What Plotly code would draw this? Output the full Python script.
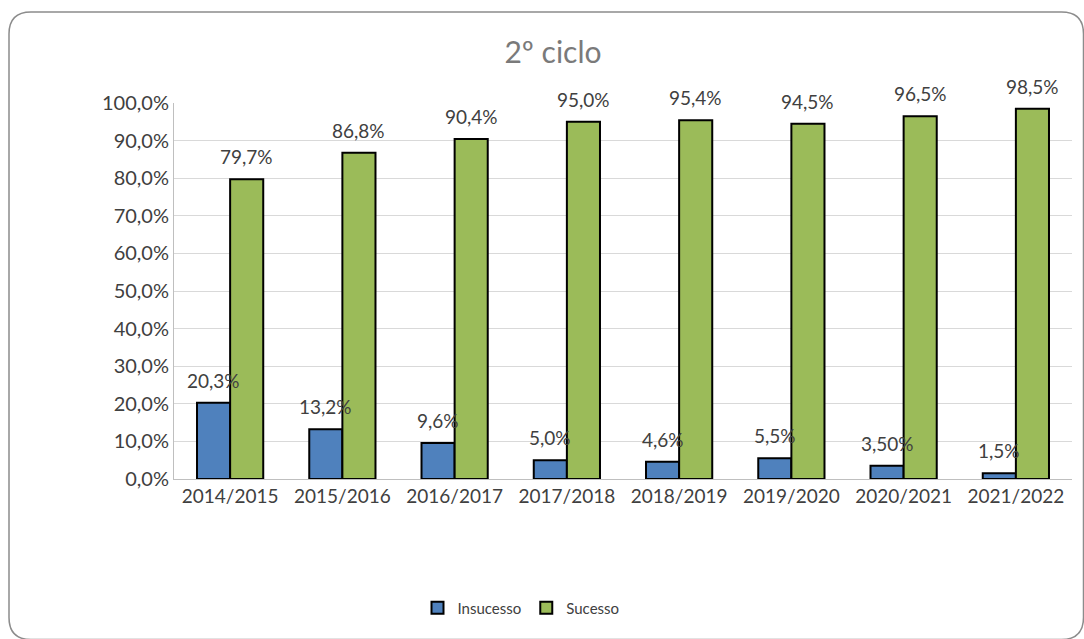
import plotly.graph_objects as go

categories = ["2014/2015", "2015/2016", "2016/2017", "2017/2018",
              "2018/2019", "2019/2020", "2020/2021", "2021/2022"]
insucesso = [20.3, 13.2, 9.6, 5.0, 4.6, 5.5, 3.5, 1.5]
sucesso = [79.7, 86.8, 90.4, 95.0, 95.4, 94.5, 96.5, 98.5]
insucesso_labels = ["20,3%", "13,2%", "9,6%", "5,0%", "4,6%", "5,5%", "3,50%", "1,5%"]
sucesso_labels = ["79,7%", "86,8%", "90,4%", "95,0%", "95,4%", "94,5%", "96,5%", "98,5%"]
y_ticks = [0, 10, 20, 30, 40, 50, 60, 70, 80, 90, 100]
y_tick_labels = ["0,0%", "10,0%", "20,0%", "30,0%", "40,0%", "50,0%",
                 "60,0%", "70,0%", "80,0%", "90,0%", "100,0%"]

W, H = 1084, 639
L, R, T, B = 174, 12, 103, 160
pw, ph = W - L - R, H - T - B
BARGAP = 0.41

def px(x):
    return (x - L) / pw

def py(y):
    return (H - B - y) / ph

font_family = "Lato, 'Open Sans', sans-serif"
text_color = "#404040"

fig = go.Figure()
fig.add_trace(go.Bar(
    name="Insucesso", x=categories, y=insucesso,
    marker=dict(color="#4F81BD", line=dict(color="#000000", width=2)),
))
fig.add_trace(go.Bar(
    name="Sucesso", x=categories, y=sucesso,
    marker=dict(color="#9BBB59", line=dict(color="#000000", width=2)),
))

# data labels placed through the axes, shifted to each bar of the group
bar_px = pw / len(categories) * (1 - BARGAP) / 2
annotations = []
for series, labels, sign in ((insucesso, insucesso_labels, -1),
                             (sucesso, sucesso_labels, 1)):
    for cat, val, lab in zip(categories, series, labels):
        annotations.append(dict(
            x=cat, y=val, xref="x", yref="y", text=lab, showarrow=False,
            xanchor="center", yanchor="bottom",
            xshift=sign * bar_px / 2, yshift=9,
            font=dict(size=19, color=text_color, family=font_family),
        ))

# rounded border
x0, x1 = px(9), px(1083.5)
y0, y1 = py(639.5), py(12)
rx, ry = 22 / pw, 22 / ph
path = (f"M {x0+rx},{y1} L {x1-rx},{y1} Q {x1},{y1} {x1},{y1-ry} "
        f"L {x1},{y0+ry} Q {x1},{y0} {x1-rx},{y0} "
        f"L {x0+rx},{y0} Q {x0},{y0} {x0},{y0+ry} "
        f"L {x0},{y1-ry} Q {x0},{y1} {x0+rx},{y1} Z")

fig.update_layout(
    width=W, height=H,
    margin=dict(l=L, r=R, t=T, b=B),
    paper_bgcolor="white", plot_bgcolor="white",
    barmode="group", bargap=BARGAP, bargroupgap=0,
    font=dict(family=font_family, color=text_color),
    title=dict(text="2º ciclo", xref="container", x=553 / W, xanchor="center",
               yref="container", y=1 - 52 / H, yanchor="middle",
               font=dict(size=30, color="#7a7a7a", family=font_family)),
    xaxis=dict(showline=True, linecolor="#bfbfbf", linewidth=1,
               tickfont=dict(size=19, color=text_color), ticks="",
               showgrid=False),
    yaxis=dict(range=[0, 100], tickvals=y_ticks, ticktext=y_tick_labels,
               showline=True, linecolor="#bfbfbf", linewidth=1,
               gridcolor="#d9d9d9", gridwidth=1, zeroline=False,
               tickfont=dict(size=20, color=text_color), ticks=""),
    legend=dict(orientation="h", x=px(521), xanchor="center",
                y=py(608), yanchor="middle",
                font=dict(size=15, color=text_color),
                itemwidth=30, tracegroupgap=0),
    annotations=annotations,
    shapes=[dict(type="path", path=path, xref="paper", yref="paper",
                 line=dict(color="#8c8c8c", width=1.5), layer="below")],
)

fig.write_html("out.html", config={"displayModeBar": False},
               post_script="document.body.style.margin='0';")
